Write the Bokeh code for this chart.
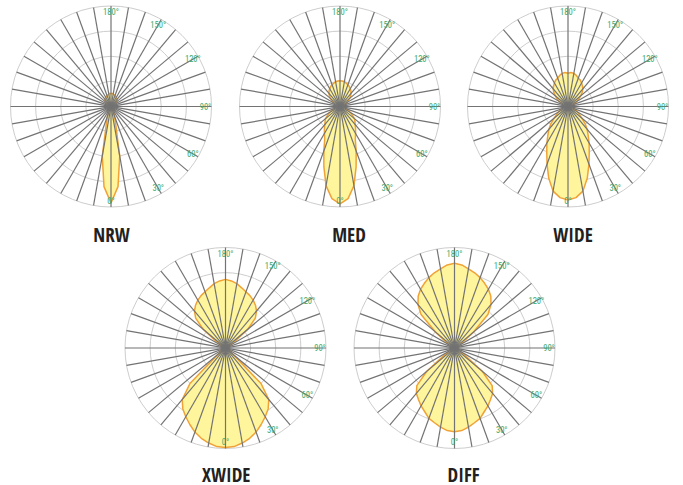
import numpy as np
from bokeh.plotting import figure
from bokeh.models import Range1d, ColumnDataSource
from bokeh.core.properties import value
from bokeh.embed import file_html
from bokeh.resources import INLINE

# ---- data: relative intensity at angles from nadir (0°) to zenith (180°) ----
angles = list(range(0, 181, 5))
names = ["NRW", "MED", "WIDE", "XWIDE", "DIFF"]
nrw = [0.96, 0.80, 0.50, 0.18, 0.10, 0.07, 0.06, 0.055, 0.05, 0.05, 0.045, 0.045, 0.04,
       0.04, 0.04, 0.035, 0.035, 0.035, 0.035, 0.035, 0.035, 0.04, 0.045, 0.05, 0.055,
       0.065, 0.075, 0.085, 0.095, 0.10, 0.105, 0.11, 0.115, 0.12, 0.125, 0.13, 0.13]
med = [0.97, 0.92, 0.80, 0.62, 0.47, 0.36, 0.31, 0.27, 0.235, 0.21, 0.19, 0.15, 0.12,
       0.09, 0.07, 0.055, 0.045, 0.04, 0.035, 0.035, 0.04, 0.045, 0.05, 0.065, 0.08,
       0.10, 0.125, 0.15, 0.17, 0.19, 0.205, 0.22, 0.23, 0.24, 0.25, 0.255, 0.257]
wide = [0.93, 0.91, 0.855, 0.74, 0.61, 0.50, 0.42, 0.35, 0.295, 0.24, 0.18, 0.14, 0.11,
        0.085, 0.07, 0.055, 0.045, 0.04, 0.035, 0.035, 0.04, 0.05, 0.06, 0.08, 0.10,
        0.13, 0.165, 0.20, 0.23, 0.25, 0.27, 0.29, 0.30, 0.32, 0.335, 0.34, 0.33]
xwide = [0.99, 0.985, 0.96, 0.93, 0.89, 0.84, 0.79, 0.74, 0.67, 0.50, 0.09, 0.06, 0.05,
         0.045, 0.04, 0.035, 0.035, 0.03, 0.03, 0.03, 0.035, 0.04, 0.045, 0.05, 0.06,
         0.11, 0.29, 0.42, 0.48, 0.52, 0.55, 0.575, 0.595, 0.62, 0.65, 0.67, 0.683]
diff = [0.833, 0.825, 0.80, 0.77, 0.745, 0.70, 0.665, 0.625, 0.59, 0.53, 0.36, 0.12, 0.07,
        0.06, 0.05, 0.045, 0.04, 0.035, 0.03, 0.035, 0.04, 0.045, 0.05, 0.06, 0.07,
        0.10, 0.25, 0.47, 0.565, 0.63, 0.675, 0.71, 0.745, 0.775, 0.80, 0.83, 0.843]
series = [nrw, med, wide, xwide, diff]

tick_angles = [0, 30, 60, 90, 120, 150, 180]
tick_labels = ["0°", "30°", "60°", "90°", "120°", "150°", "180°"]
ring_levels = [0.25, 0.5, 0.75, 1.0]
spoke_angles = list(range(0, 180, 10))

# ---- layout (pixels inside the figure) ----
W, H = 683, 485
R = 100.5
centers = [(110.5, 106), (339.5, 106), (567.5, 106), (225, 347.5), (454, 347.5)]
title_pos = [(111, 234.5), (348.5, 234.5), (572.5, 234.5), (225.7, 474), (463, 474)]

TITLE_FONT = "Open Sans Condensed"
LABEL_FONT = "Roboto Condensed"

p = figure(width=W, height=H, x_range=Range1d(0, W), y_range=Range1d(H, 0),
           output_backend="svg", toolbar_location=None, min_border=0,
           x_axis_location=None, y_axis_location=None)
p.grid.visible = False
p.outline_line_color = None
p.background_fill_color = "white"

rad = np.radians(angles)
for (cx, cy), vals in zip(centers, series):
    p.circle(x=[cx] * len(ring_levels), y=[cy] * len(ring_levels),
             radius=[R * lv for lv in ring_levels], fill_color=None,
             line_color="#cdcdcd", line_width=1)
    r = np.array(vals) * R
    xr = cx + r * np.sin(rad)
    yr = cy + r * np.cos(rad)
    xl = cx - r[::-1][1:-1] * np.sin(rad[::-1][1:-1])
    yl = cy + r[::-1][1:-1] * np.cos(rad[::-1][1:-1])
    p.patch(x=np.concatenate([xr, xl]), y=np.concatenate([yr, yl]),
            fill_color="#fff59c", line_color="#f0a236", line_width=1.5,
            line_join="round")
    sa = np.radians(spoke_angles)
    p.segment(x0=cx - R * np.sin(sa), y0=cy - R * np.cos(sa),
              x1=cx + R * np.sin(sa), y1=cy + R * np.cos(sa),
              line_color="#737373", line_width=1.2)
    ta = np.radians(tick_angles)
    lr = 0.94 * R
    p.text(x=cx + lr * np.sin(ta), y=cy + lr * np.cos(ta), text=tick_labels,
           text_align="center", text_baseline="middle", text_color="#3ba86c",
           text_font=value(LABEL_FONT), text_font_size="8.5px")

src = ColumnDataSource(dict(x=[t[0] for t in title_pos], y=[t[1] for t in title_pos],
                            text=names))
p.text(x="x", y="y", text="text", source=src, text_align="center",
       text_baseline="middle", text_color="#231f20",
       text_font=value(TITLE_FONT), text_font_style="bold",
       text_font_size="19px")

open("out.html", "w").write(file_html(p, INLINE))
